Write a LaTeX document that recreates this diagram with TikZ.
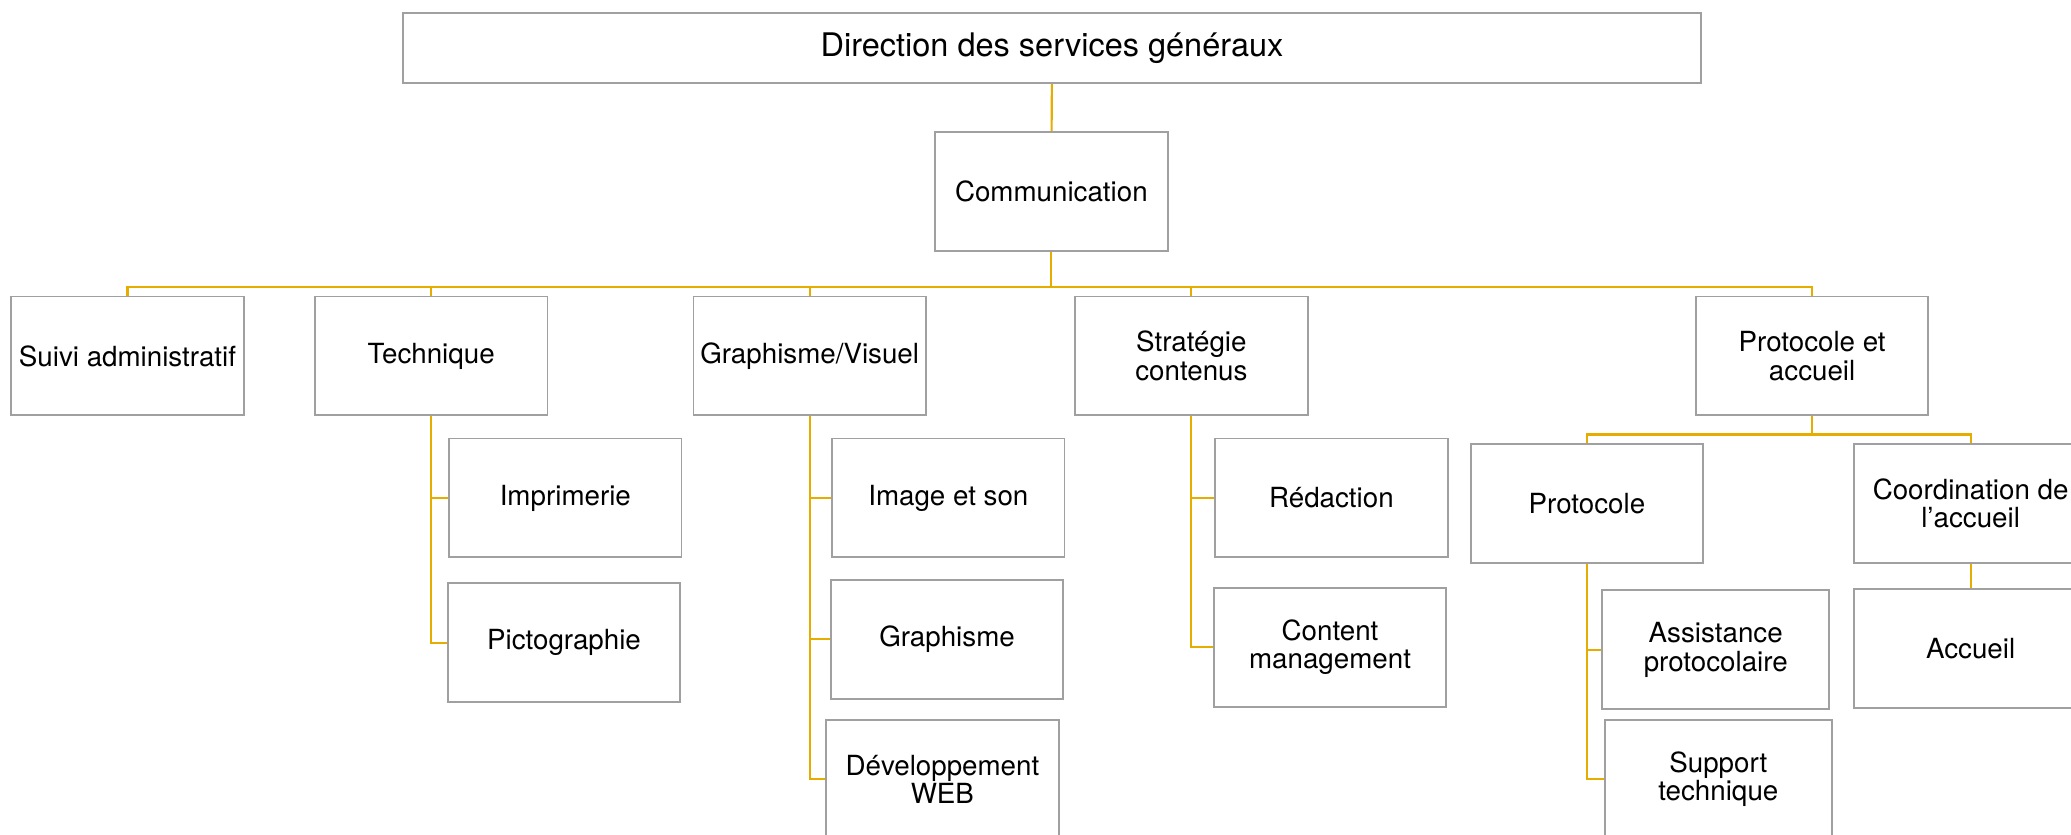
\documentclass[tikz,border=0pt]{standalone}
\usepackage{fontspec}
\setmainfont{TeX Gyre Heros}
\definecolor{linkgold}{RGB}{231,172,0}
\definecolor{boxgray}{RGB}{160,160,160}

\begin{document}
\begin{tikzpicture}[x=0.5pt, y=-0.5pt,
  unit/.style={draw=boxgray, line width=0.7pt, fill=white, align=center, inner sep=0pt,
    minimum width=88pt, minimum height=45pt, font=\fontsize{10.5}{10.8}\selectfont},
  link/.style={draw=linkgold, line width=0.8pt}]
\useasboundingbox (0,0) rectangle (1568,632);
\clip (0,0) rectangle (1568,632);
\fill[white] (0,0) rectangle (1568,632);

\node[unit, minimum width=491.5pt, minimum height=26.5pt, font=\fontsize{12.3}{13}\selectfont] (dir) at (796.5,36.5) {Direction des services généraux};
\node[unit] (comm) at (796,145) {Communication};

\node[unit] (suivi) at (96.5,269.5) {Suivi administratif};
\node[unit] (tech) at (326.5,269.5) {Technique};
\node[unit] (graph) at (613,269.5) {Graphisme/Visuel};
\node[unit] (strat) at (902,269.5) {Stratégie\\contenus};
\node[unit] (proto) at (1372,269.5) {Protocole et\\accueil};

\node[unit] (impr) at (428,377) {Imprimerie};
\node[unit] (picto) at (427,486.5) {Pictographie};

\node[unit] (image) at (718,377) {Image et son};
\node[unit] (graphisme) at (717,484) {Graphisme};
\node[unit] (dev) at (713.5,590) {Développement\\WEB};

\node[unit] (redac) at (1008,377) {Rédaction};
\node[unit] (content) at (1007,490) {Content\\management};

\node[unit] (protocole) at (1201.5,381) {Protocole};
\node[unit] (coord) at (1492,381) {Coordination de\\l’accueil};
\node[unit] (accueil) at (1492,491) {Accueil};
\node[unit, minimum width=86pt] (assist) at (1299,492) {Assistance\\protocolaire};
\node[unit, minimum width=86pt] (support) at (1301,590) {Support\\technique};

\coordinate (cbar) at (796,217);
\coordinate (pbar) at (1372,329);

\path[link] (dir) -- (comm);
\path[link] (comm) -- (cbar);
\foreach \n in {suivi,tech,graph,strat,proto}
  \path[link] (cbar) -| (\n.north);

\path[link] (tech.south) |- (impr.west);
\path[link] (tech.south) |- (picto.west);
\path[link] (graph.south) |- (image.west);
\path[link] (graph.south) |- (graphisme.west);
\path[link] (graph.south) |- (dev.west);
\path[link] (strat.south) |- (redac.west);
\path[link] (strat.south) |- (content.west);

\path[link] (proto) -- (pbar);
\path[link] (pbar) -| (protocole.north);
\path[link] (pbar) -| (coord.north);
\path[link] (coord) -- (accueil);
\path[link] (protocole.south) |- (assist.west);
\path[link] (protocole.south) |- (support.west);
\end{tikzpicture}
\end{document}
